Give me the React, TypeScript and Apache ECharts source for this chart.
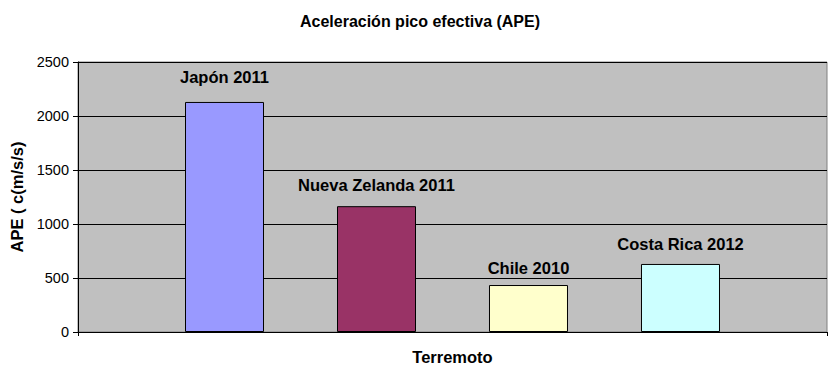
import React, { useEffect, useRef } from "react";
import * as echarts from "echarts";

const categories = ["Terremoto"];
const seriesNames = ["Japón 2011", "Nueva Zelanda 2011", "Chile 2010", "Costa Rica 2012"];
const seriesValues = [2130, 1165, 435, 630];
const seriesColors = ["#9999FF", "#993366", "#FFFFCC", "#CCFFFF"];
const labelDistances = [16, 13, 9, 11];
const yTicks = { min: 0, max: 2500, interval: 500 };

export default function App() {
  const ref = useRef<HTMLDivElement>(null);
  useEffect(() => {
    if (!ref.current) return;
    const chart = echarts.init(ref.current, null, { renderer: "svg" });
    const font = "'Liberation Sans', Arial, sans-serif";
    chart.setOption({
      animation: false,
      backgroundColor: "#FFFFFF",
      title: {
        text: "Aceleración pico efectiva (APE)",
        left: 415,
        top: 8,
        textAlign: "center",
        textStyle: { fontFamily: font, fontSize: 16, fontWeight: "bold", color: "#000" },
      },
      grid: {
        left: 78,
        right: 13,
        top: 62,
        bottom: 56,
        show: true,
        backgroundColor: "#C0C0C0",
        borderColor: "#808080",
        borderWidth: 1,
      },
      xAxis: {
        type: "category",
        data: categories,
        name: "Terremoto",
        nameLocation: "middle",
        nameGap: 16,
        nameTextStyle: { fontFamily: font, fontSize: 16.5, fontWeight: "bold", color: "#000" },
        axisLine: { lineStyle: { color: "#000", width: 1 } },
        axisTick: { show: true, length: 4, lineStyle: { color: "#000" } },
        axisLabel: { show: false },
      },
      yAxis: {
        type: "value",
        min: yTicks.min,
        max: yTicks.max,
        interval: yTicks.interval,
        name: "APE ( c(m/s/s)",
        nameLocation: "middle",
        nameGap: 53,
        nameTextStyle: { fontFamily: font, fontSize: 16.5, fontWeight: "bold", color: "#000" },
        axisLine: { show: true, lineStyle: { color: "#000", width: 1 } },
        axisTick: { show: true, length: 5, lineStyle: { color: "#000" } },
        axisLabel: {
          fontFamily: font,
          fontSize: 14.5,
          color: "#000",
          margin: 9,
          formatter: (v: number) => String(v),
        },
        splitLine: { show: true, lineStyle: { color: "#000", width: 1 } },
      },
      series: seriesNames.map((name, i) => ({
        name,
        type: "bar",
        data: [seriesValues[i]],
        barWidth: 79,
        barGap: "92.4%",
        itemStyle: { color: seriesColors[i], borderColor: "#000", borderWidth: 1 },
        label: {
          show: true,
          position: "top",
          distance: labelDistances[i],
          formatter: name,
          fontFamily: font,
          fontSize: 16.5,
          fontWeight: "bold",
          color: "#000",
        },
      })),
    });
    return () => chart.dispose();
  }, []);
  return <div ref={ref} style={{ width: 840, height: 388, position: "absolute", left: 0, top: 0 }} />;
}
